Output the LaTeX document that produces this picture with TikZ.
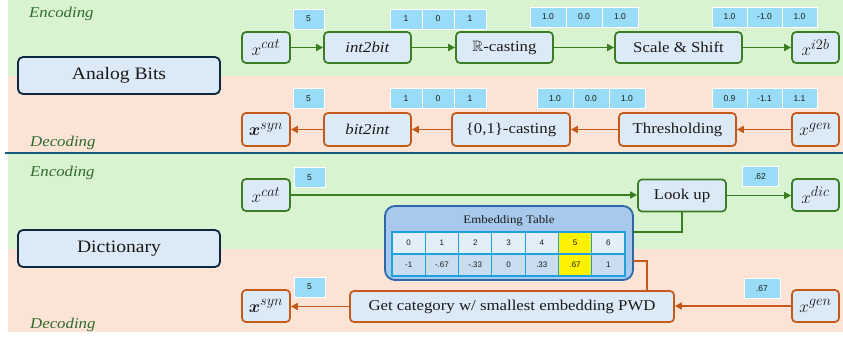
\documentclass[tikz,border=0pt]{standalone}
\usepackage{amsmath,amssymb}
\usepackage{fontspec}
\setmainfont{Liberation Serif}[FakeStretch=1.12]
\setsansfont{Liberation Sans}
\usetikzlibrary{arrows.meta}
\definecolor{greenbg}{HTML}{D9F2D0}
\definecolor{peachbg}{HTML}{FBE3D6}
\definecolor{nodefill}{HTML}{DCE9F6}
\definecolor{gline}{HTML}{3B7D23}
\definecolor{oline}{HTML}{C4591A}
\definecolor{navy}{HTML}{0E2841}
\definecolor{lblcyan}{HTML}{99DCF7}
\definecolor{sepline}{HTML}{17587A}
\definecolor{phasegreen}{HTML}{2F6A2F}
\definecolor{tabfill}{HTML}{A7C9EC}
\definecolor{tabborder}{HTML}{2E67AA}
\definecolor{cellborder}{HTML}{1EA2DD}
\definecolor{rowA}{HTML}{E3EEF8}
\definecolor{rowB}{HTML}{CADDF0}
\definecolor{textdark}{HTML}{1A1A1A}
\begin{document}
\begin{tikzpicture}[x=1pt,y=-1pt,
  box/.style={rounded corners=4pt, fill=nodefill, line width=1.7pt, inner sep=0pt,
    minimum height=31pt, font=\fontsize{15}{18}\selectfont, text=textdark},
  gbox/.style={box, draw=gline},
  obox/.style={box, draw=oline},
  mathbox/.style={font=\fontsize{19}{22}\selectfont},
  lbl/.style={fill=lblcyan, draw=white, line width=0.8pt, inner sep=0pt,
    minimum width=31pt, minimum height=20pt, font=\sffamily\fontsize{8.5}{10}\selectfont, text=textdark},
  garr/.style={draw=gline, line width=1.6pt, -{Triangle[length=7pt,width=7pt]}},
  oarr/.style={draw=oline, line width=1.6pt, -{Triangle[length=7pt,width=7pt]}},
  gconn/.style={draw=gline, line width=1.6pt},
  oconn/.style={draw=oline, line width=1.6pt},
  method/.style={rounded corners=5pt, draw=navy, line width=1.8pt, fill=nodefill,
    font=\fontsize{17.5}{20}\selectfont, minimum width=202pt, minimum height=37pt, inner sep=0pt, text=textdark},
  phase/.style={font=\itshape\fontsize{15}{18}\selectfont, text=phasegreen, anchor=base west, inner sep=0pt},
  cell/.style={draw=cellborder, line width=1.1pt, minimum width=33.29pt, minimum height=22pt,
    inner sep=0pt, font=\sffamily\fontsize{8}{9}\selectfont, text=textdark}
]
\useasboundingbox (0,0) rectangle (843,337);
% backgrounds
\fill[greenbg] (8,0) rectangle (843,76);
\fill[peachbg] (8,76) rectangle (843,152);
\fill[greenbg] (8,154) rectangle (843,249);
\fill[peachbg] (8,249) rectangle (843,332);
\draw[sepline, line width=2.4pt] (5,153) -- (843,153);

% phase labels
\node[phase] (enc1) at (29,18) {Encoding};
\node[phase] (dec1) at (30,146) {Decoding};
\node[phase] (enc2) at (30,176) {Encoding};
\node[phase] (dec2) at (30,328) {Decoding};

% method boxes
\node[method] (ab) at (119,75.5) {Analog Bits};
\node[method] (dict) at (119,248.5) {Dictionary};

% Row 1: analog bits encoding
\node[gbox, mathbox, minimum width=48pt] (xcatA) at (266,47.5) {$x^{cat}$};
\node[gbox, minimum width=87pt] (i2b) at (367.5,47.5) {\textit{int2bit}};
\node[gbox, minimum width=97pt] (rcast) at (504.5,47.5) {$\mathbb{R}$-casting};
\node[gbox, minimum width=127pt] (ss) at (678.5,47.5) {Scale \& Shift};
\node[gbox, mathbox, minimum width=47pt] (xi2b) at (815.5,47.5) {$x^{i2b}$};
\draw[garr] (xcatA) -- (i2b);
\draw[garr] (i2b) -- (rcast);
\draw[garr] (rcast) -- (ss);
\draw[garr] (ss) -- (xi2b);

\node[lbl] (l1a) at (308.5,19) {5};
\node[lbl, minimum width=32pt] (l1b) at (406,19) {1};
\node[lbl, minimum width=32pt] (l1c) at (438,19) {0};
\node[lbl, minimum width=32pt] (l1d) at (470,19) {1};
\node[lbl, minimum width=36pt] (l1e) at (548,17) {1.0};
\node[lbl, minimum width=36pt] (l1f) at (584,17) {0.0};
\node[lbl, minimum width=36pt] (l1g) at (620,17) {1.0};
\node[lbl, minimum width=35pt] (l1h) at (729.5,17) {1.0};
\node[lbl, minimum width=35pt] (l1i) at (764.5,17) {-1.0};
\node[lbl, minimum width=35pt] (l1j) at (799.5,17) {1.0};

% Row 2: analog bits decoding
\node[obox, mathbox, minimum width=48pt, minimum height=33pt] (xsynA) at (266,129.5) {$\boldsymbol{x}^{syn}$};
\node[obox, minimum width=87pt, minimum height=33pt] (b2i) at (367.5,129.5) {\textit{bit2int}};
\node[obox, minimum width=118pt, minimum height=33pt] (c01) at (511,129.5) {\{0,1\}-casting};
\node[obox, minimum width=117pt, minimum height=33pt] (thr) at (677.5,129.5) {Thresholding};
\node[obox, mathbox, minimum width=47pt, minimum height=33pt] (xgenA) at (815.5,129.5) {$x^{gen}$};
\draw[oarr] (xgenA) -- (thr);
\draw[oarr] (thr) -- (c01);
\draw[oarr] (c01) -- (b2i);
\draw[oarr] (b2i) -- (xsynA);

\node[lbl] (l2a) at (308.5,98.5) {5};
\node[lbl, minimum width=32pt] (l2b) at (406,98.5) {1};
\node[lbl, minimum width=32pt] (l2c) at (438,98.5) {0};
\node[lbl, minimum width=32pt] (l2d) at (470,98.5) {1};
\node[lbl, minimum width=36pt] (l2e) at (555,98.5) {1.0};
\node[lbl, minimum width=36pt] (l2f) at (591,98.5) {0.0};
\node[lbl, minimum width=36pt] (l2g) at (627,98.5) {1.0};
\node[lbl, minimum width=35pt] (l2h) at (729.5,98.5) {0.9};
\node[lbl, minimum width=35pt] (l2i) at (764.5,98.5) {-1.1};
\node[lbl, minimum width=35pt] (l2j) at (799.5,98.5) {1.1};

% Embedding table
\node[rounded corners=10pt, draw=tabborder, line width=1.8pt, fill=tabfill,
  minimum width=248pt, minimum height=74pt, inner sep=0pt] (tab) at (509,243) {};
\node[font=\fontsize{11.5}{13}\selectfont, text=textdark, inner sep=0pt] (tabtitle) at (509,221) {Embedding Table};
\foreach \i/\t/\b/\ca/\cb in {0/0/-1/rowA/rowB, 1/1/-.67/rowA/rowB, 2/2/-.33/rowA/rowB,
  3/3/0/rowA/rowB, 4/4/.33/rowA/rowB, 5/5/.67/yellow/yellow, 6/6/1/rowA/rowB} {
  \node[cell, fill=\ca] (cA\i) at ({392+33.29*(\i+0.5)},243) {\t};
  \node[cell, fill=\cb] (cB\i) at ({392+33.29*(\i+0.5)},265) {\b};
}

% Row 3: dictionary encoding
\node[gbox, mathbox, minimum width=48pt, minimum height=32pt] (xcatB) at (266,195) {$x^{cat}$};
\node[gbox, minimum width=88pt, minimum height=32pt] (lookup) at (682,195.5) {Look up};
\node[gbox, mathbox, minimum width=47pt, minimum height=32pt] (xdic) at (815.5,195) {$x^{dic}$};
\draw[garr] (xcatB.east) -- (xcatB.east -| lookup.west);
\draw[garr] (lookup.east) -- (lookup.east -| xdic.west);
\coordinate (tabG) at (633,232);
\draw[gconn] (lookup.south) |- (tabG);
\node[lbl] (l3a) at (309.5,177.5) {5};
\node[lbl, minimum width=36pt] (l3b) at (760,176.5) {.62};

% Row 4: dictionary decoding
\node[obox, mathbox, minimum width=48pt, minimum height=32pt] (xsynB) at (266,306) {$\boldsymbol{x}^{syn}$};
\node[obox, minimum width=324pt, minimum height=31pt] (getcat) at (512,306.5) {Get category w/ smallest embedding PWD};
\node[obox, mathbox, minimum width=47pt, minimum height=32pt] (xgenB) at (815.5,306) {$x^{gen}$};
\draw[oarr] (xgenB.west) -- (xgenB.west -| getcat.east);
\draw[oarr] (getcat.west) -- (getcat.west -| xsynB.east);
\coordinate (tabO) at (633,261);
\coordinate (turnO) at (647,261);
\draw[oconn] (tabO) -- (turnO) -- (turnO |- getcat.north);
\node[lbl] (l4a) at (309.5,287) {5};
\node[lbl, minimum width=36pt] (l4b) at (762,288.5) {.67};
\end{tikzpicture}
\end{document}
